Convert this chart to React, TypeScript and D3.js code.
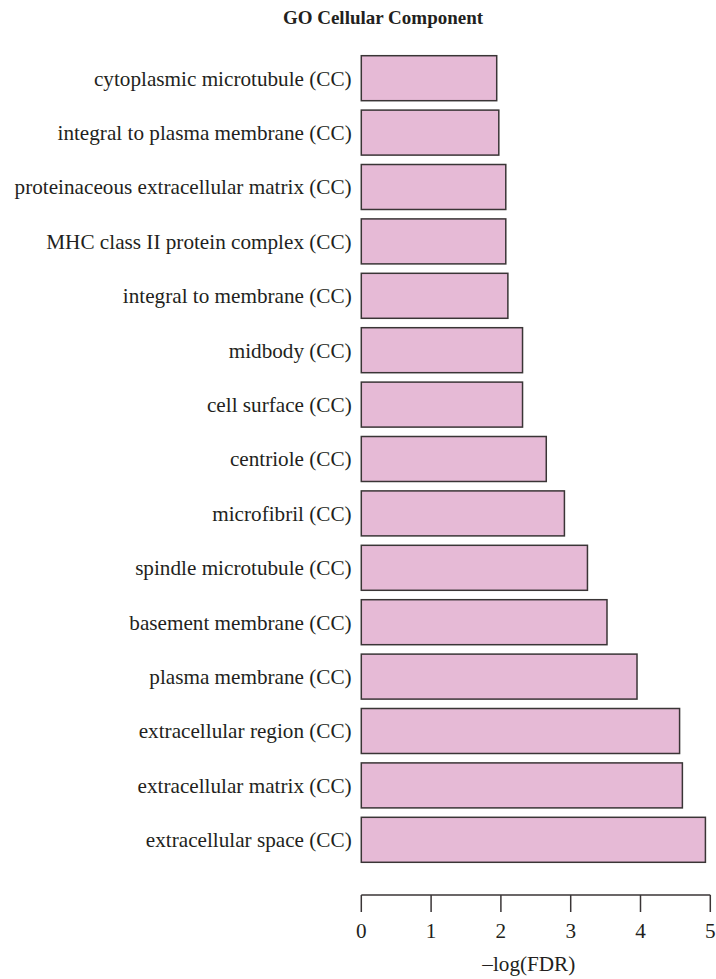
import React from "react";
import * as d3 from "d3";

const categories: string[] = [
  "cytoplasmic microtubule (CC)",
  "integral to plasma membrane (CC)",
  "proteinaceous extracellular matrix (CC)",
  "MHC class II protein complex (CC)",
  "integral to membrane (CC)",
  "midbody (CC)",
  "cell surface (CC)",
  "centriole (CC)",
  "microfibril (CC)",
  "spindle microtubule (CC)",
  "basement membrane (CC)",
  "plasma membrane (CC)",
  "extracellular region (CC)",
  "extracellular matrix (CC)",
  "extracellular space (CC)",
];

const values: number[] = [
  1.94, 1.97, 2.07, 2.07, 2.1, 2.31, 2.31, 2.65, 2.91, 3.24, 3.52, 3.95, 4.56, 4.6, 4.93,
];

const xTicks: number[] = [0, 1, 2, 3, 4, 5];

const title = "GO Cellular Component";
const xLabel = "\u2013log(FDR)";

const W = 716;
const H = 979;
const FONT = "'Liberation Serif', 'Times New Roman', serif";
const FS = 21.2;

export default function App() {
  const x = d3.scaleLinear().domain([0, 5]).range([361.3, 710.3]);
  const y = d3
    .scaleBand<string>()
    .domain(categories)
    .range([51, 51 + 15 * 54.4])
    .paddingInner(0.173)
    .paddingOuter(0.0865);

  const axisY = 895;

  return (
    <svg
      width={W}
      height={H}
      style={{ position: "absolute", left: 0, top: 0, background: "#fff" }}
      fontFamily={FONT}
    >
      <text
        x={383}
        y={24}
        textAnchor="middle"
        fontWeight="bold"
        fontSize={19}
        fill="#231f20"
      >
        {title}
      </text>
      {categories.map((c, i) => (
        <g key={c}>
          <rect
            x={x(0)}
            y={y(c)!}
            width={x(values[i]) - x(0)}
            height={y.bandwidth()}
            fill="#e6bad6"
            stroke="#3a3536"
            strokeWidth={1.5}
          />
          <text
            x={x(0) - 9.6}
            y={y(c)! + y.bandwidth() / 2}
            dy="0.35em"
            textAnchor="end"
            fontSize={FS}
            fill="#231f20"
          >
            {c}
          </text>
        </g>
      ))}
      <line
        x1={x(0)}
        x2={x(5)}
        y1={axisY}
        y2={axisY}
        stroke="#3a3536"
        strokeWidth={1.5}
      />
      {xTicks.map((t) => (
        <g key={t}>
          <line
            x1={x(t)}
            x2={x(t)}
            y1={axisY}
            y2={axisY + 17}
            stroke="#3a3536"
            strokeWidth={1.5}
          />
          <text
            x={x(t)}
            y={938}
            textAnchor="middle"
            fontSize={FS}
            fill="#231f20"
          >
            {t}
          </text>
        </g>
      ))}
      <text
        x={x(2.4)}
        y={971}
        textAnchor="middle"
        fontSize={FS}
        fill="#231f20"
      >
        {xLabel}
      </text>
    </svg>
  );
}
